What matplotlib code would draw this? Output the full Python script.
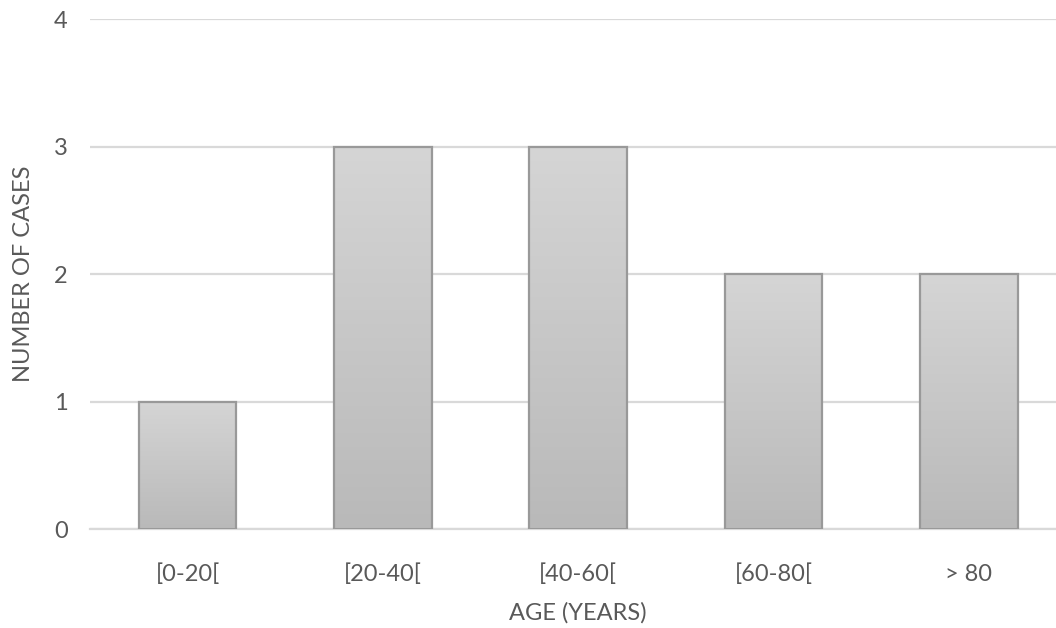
import numpy as np
import matplotlib
matplotlib.use("Agg")
import matplotlib.pyplot as plt
from matplotlib.colors import LinearSegmentedColormap

categories = ["[0-20[", "[20-40[", "[40-60[", "[60-80[", "> 80"]
cases = [1, 3, 3, 2, 2]
y_ticks = [0, 1, 2, 3, 4]

plt.rcParams['font.family'] = ['Lato', 'DejaVu Sans']
text_color = "#595959"
font_size = 17

fig = plt.figure(figsize=(10.56, 6.28), dpi=100)
ax = fig.add_axes([0.0852, 0.1576, 0.9247, 0.8121])

x = np.arange(len(categories))
bars = ax.bar(x, cases, width=0.5, facecolor="none", edgecolor="#999999",
              linewidth=1.6, zorder=3)

# vertical gray gradient inside each bar
grad_cmap = LinearSegmentedColormap.from_list("bargrad", ["#b9b9b9", "#d5d5d5"])
gradient = np.linspace(0, 1, 256).reshape(-1, 1)
for rect in bars:
    x0, y0 = rect.get_x(), rect.get_y()
    w, h = rect.get_width(), rect.get_height()
    im = ax.imshow(gradient, cmap=grad_cmap, aspect="auto", origin="lower",
                   extent=(x0, x0 + w, y0, y0 + h), zorder=2)
    im.set_clip_path(rect)

ax.set_xlim(-0.5, len(categories) - 0.5)
ax.set_ylim(0, 4)
ax.set_yticks(y_ticks)
ax.set_xticks(x)
ax.set_xticklabels(categories)
ax.yaxis.grid(True, color="#d9d9d9", linewidth=1.6, zorder=0)
ax.set_axisbelow(True)
for side in ["top", "right", "left"]:
    ax.spines[side].set_visible(False)
ax.spines["bottom"].set_color("#d9d9d9")
ax.spines["bottom"].set_linewidth(1.6)
ax.tick_params(axis="both", length=0, colors=text_color, labelsize=font_size)
ax.tick_params(axis="x", pad=25)
ax.tick_params(axis="y", pad=16)

ax.set_xlabel("AGE (YEARS)", color=text_color, fontsize=font_size, labelpad=12)
ax.set_ylabel("NUMBER OF CASES", color=text_color, fontsize=font_size, labelpad=14)

fig.savefig("out.png", dpi=100)
